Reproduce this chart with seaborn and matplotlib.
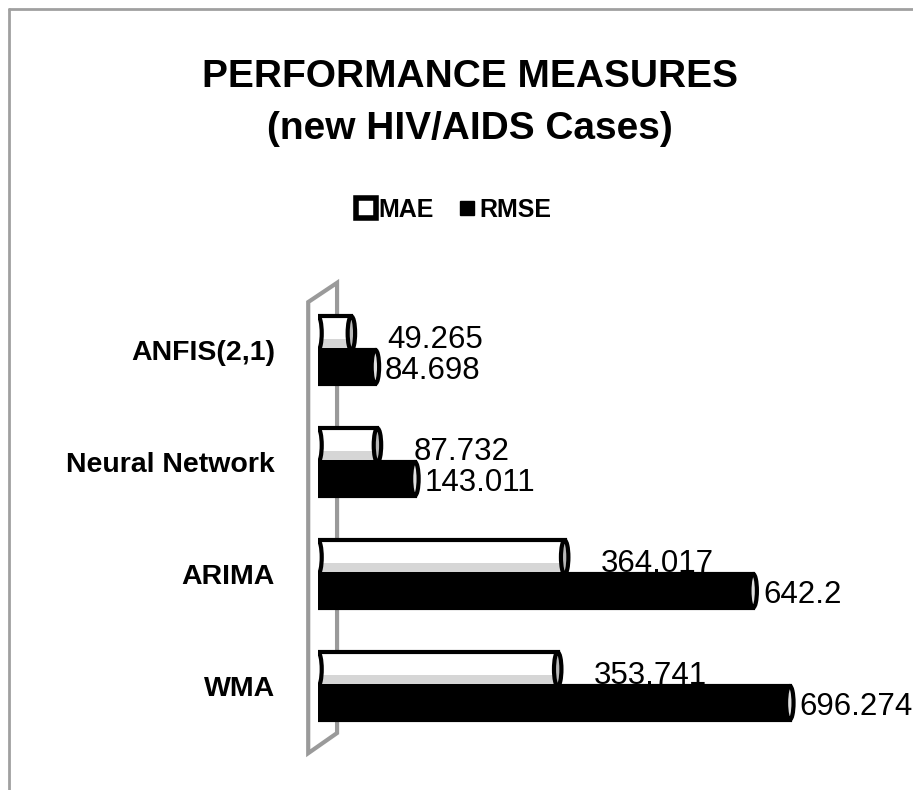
import pandas as pd
import numpy as np
import matplotlib.pyplot as plt
import seaborn as sns
from matplotlib.patches import Polygon, Ellipse
from matplotlib.lines import Line2D

#### Values
methods = ['ANFIS(2,1)', 'Neural Network', 'ARIMA', 'WMA']
mae = [49.265, 87.732, 364.017, 353.741]
rmse = [84.698, 143.011, 642.2, 696.274]
measures = ['MAE', 'RMSE']

df = pd.DataFrame({
    'method': methods * 2,
    'measure': ['MAE'] * 4 + ['RMSE'] * 4,
    'value': mae + rmse,
})

sns.set_theme(style='white')
plt.rcParams['font.family'] = ['Liberation Sans', 'DejaVu Sans']
plt.rcParams['text.color'] = 'black'
plt.rcParams['ytick.color'] = 'black'

fig = plt.figure(figsize=(9.13, 7.9), dpi=100)
ax = fig.add_axes([318 / 913, 1 - 742 / 790, 515 / 913, 448 / 790])

sns.barplot(data=df, x='value', y='method', hue='measure', order=methods,
            hue_order=measures, orient='h', palette={'MAE': 'white', 'RMSE': 'black'},
            edgecolor='black', linewidth=3, width=0.6, legend=False, ax=ax, zorder=3)

ax.set_xlim(0, 760)
ax.set_ylim(3.5, -0.5)
ax.set_xlabel('')
ax.set_ylabel('')
ax.set_xticks([])
for s in ax.spines.values():
    s.set_visible(False)
ax.tick_params(axis='y', length=0, pad=31, labelcolor='black')
for lab in ax.get_yticklabels():
    lab.set_fontweight('bold')
    lab.set_fontsize(20.5)

#### cylinder end caps and shading
for cont, cap in zip(ax.containers, ['#b8b8b8', '#e0e0e0']):
    for p in cont.patches:
        yc = p.get_y() + p.get_height() / 2
        if p.get_facecolor()[0] > 0.5:
            h = p.get_height()
            ax.add_patch(plt.Rectangle((p.get_x(), p.get_y() + h * 0.68), p.get_width(), h * 0.25,
                                       facecolor='#d6d6d6', edgecolor='none', zorder=3.5))
        for xe in (p.get_x(), p.get_x() + p.get_width()):
            ax.add_patch(Ellipse((xe, yc), 11, p.get_height(), facecolor=cap if xe > 0 else p.get_facecolor(),
                                 edgecolor='black', linewidth=3, zorder=4))

#### gray back wall
wall = Polygon([(-0.019, -0.025), (-0.019, 0.982), (0.037, 1.025), (0.037, 0.020)],
               closed=True, transform=ax.transAxes, facecolor='none', edgecolor='#9a9a9a',
               linewidth=3, clip_on=False, zorder=1)
ax.add_patch(wall)

#### data labels
for p, v in zip(ax.containers[0].patches, mae):
    ax.annotate(f'{v:g}', (p.get_x() + p.get_width(), p.get_y() + p.get_height() / 2),
                xytext=(26, -5), textcoords='offset points', ha='left', va='center',
                fontsize=22.5, zorder=5)
for p, v in zip(ax.containers[1].patches, rmse):
    ax.annotate(f'{v:g}', (p.get_x() + p.get_width(), p.get_y() + p.get_height() / 2),
                xytext=(7, -3), textcoords='offset points', ha='left', va='center',
                fontsize=22.5, zorder=5)

#### title and legend
fig.text(0.515, 1 - 103 / 790, 'PERFORMANCE MEASURES\n(new HIV/AIDS Cases)', ha='center',
         va='center', fontsize=28, fontweight='bold', linespacing=1.55)

handles = [Line2D([], [], marker='s', linestyle='none', markersize=14, markerfacecolor='white',
                  markeredgecolor='black', markeredgewidth=4, label='MAE'),
           Line2D([], [], marker='s', linestyle='none', markersize=10, markerfacecolor='black',
                  markeredgecolor='black', label='RMSE')]
fig.legend(handles=handles, loc='center', bbox_to_anchor=(0.497, 1 - 210 / 790), ncol=2,
           frameon=False, handlelength=0.8, handletextpad=0.1,
           columnspacing=0.9, prop={'weight': 'bold', 'size': 18})

#### chart border (top and left)
fig.add_artist(Line2D([9 / 913, 1], [1 - 9 / 790, 1 - 9 / 790], color='#a0a0a0', linewidth=2))
fig.add_artist(Line2D([9 / 913, 9 / 913], [0, 1 - 9 / 790], color='#a0a0a0', linewidth=2))

plt.savefig('out.png', dpi=100)
